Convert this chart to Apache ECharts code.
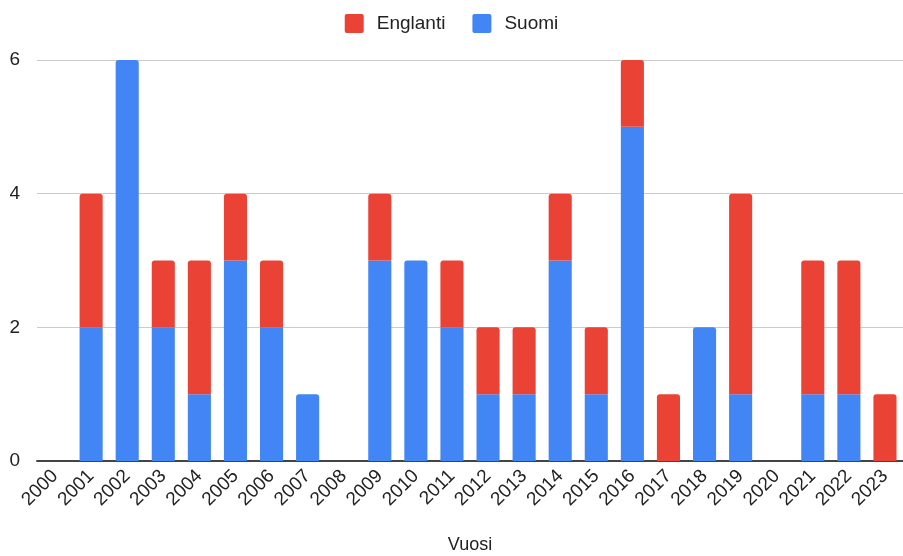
<!DOCTYPE html>
<html>
<head>
<meta charset="utf-8">
<script src="https://cdn.jsdelivr.net/npm/echarts@6/dist/echarts.min.js"></script>
<style>
    html, body { margin: 0; padding: 0; background: #fff; }
    #chart { width: 903px; height: 556px; }
</style>
</head>
<body>
<div id="chart"></div>
<script>
// Data
var years = ['2000', '2001', '2002', '2003', '2004', '2005', '2006', '2007', '2008', '2009', '2010', '2011',
    '2012', '2013', '2014', '2015', '2016', '2017', '2018', '2019', '2020', '2021', '2022', '2023'];
var suomi = [0, 2, 6, 2, 1, 3, 2, 1, 0, 3, 3, 2, 1, 1, 3, 1, 5, 0, 2, 1, 0, 1, 1, 0];
var englanti = [0, 2, 0, 1, 2, 1, 1, 0, 0, 1, 0, 1, 1, 1, 1, 1, 1, 1, 0, 3, 0, 2, 2, 1];

var chart = echarts.init(document.getElementById('chart'));

// Top-most segment of each stack gets rounded corners
function topRadius(values, other, isTop) {
    return values.map(function (v, i) {
        var rounded = isTop ? v > 0 : (v > 0 && other[i] === 0);
        return {
            value: v === 0 ? '-' : v,
            itemStyle: { borderRadius: rounded ? [3, 3, 0, 0] : 0 }
        };
    });
}

var legendIcon = 'path://M2,0 H17 Q19,0 19,2 V17 Q19,19 17,19 H2 Q0,19 0,17 V2 Q0,0 2,0 Z';

chart.setOption({
    animation: false,
    textStyle: {
        fontFamily: 'Arial, Liberation Sans, sans-serif',
        fontSize: 19,
        color: '#222'
    },
    legend: {
        top: 9,
        left: 'center',
        itemWidth: 19,
        itemHeight: 19,
        itemGap: 27,
        textStyle: { fontSize: 19, color: '#222', padding: [0, 0, 0, 8] },
        data: [
            { name: 'Englanti', icon: legendIcon },
            { name: 'Suomi', icon: legendIcon }
        ]
    },
    grid: {
        left: 37,
        right: 0,
        top: 60,
        bottom: 95,
        containLabel: false,
        outerBoundsMode: 'none'
    },
    xAxis: {
        type: 'category',
        data: years,
        name: 'Vuosi',
        nameLocation: 'middle',
        nameGap: 75,
        nameTextStyle: { fontSize: 18, color: '#222' },
        axisTick: { show: false },
        axisLine: { lineStyle: { color: '#444', width: 2 } },
        axisLabel: {
            rotate: 45,
            interval: 0,
            fontSize: 19,
            color: '#222',
            margin: 12,
            padding: [14, 0, 0, 0]
        }
    },
    yAxis: {
        type: 'value',
        min: 0,
        max: 6,
        interval: 2,
        axisLine: { show: false },
        axisTick: { show: false },
        axisLabel: { fontSize: 19, color: '#222', margin: 17 },
        splitLine: { lineStyle: { color: '#ccc', width: 1 } }
    },
    series: [
        {
            name: 'Suomi',
            type: 'bar',
            stack: 'total',
            barWidth: '64%',
            itemStyle: { color: '#4285f4' },
            data: topRadius(suomi, englanti, false)
        },
        {
            name: 'Englanti',
            type: 'bar',
            stack: 'total',
            barWidth: '64%',
            itemStyle: { color: '#ea4335' },
            data: topRadius(englanti, suomi, true)
        }
    ]
});
</script>
</body>
</html>
